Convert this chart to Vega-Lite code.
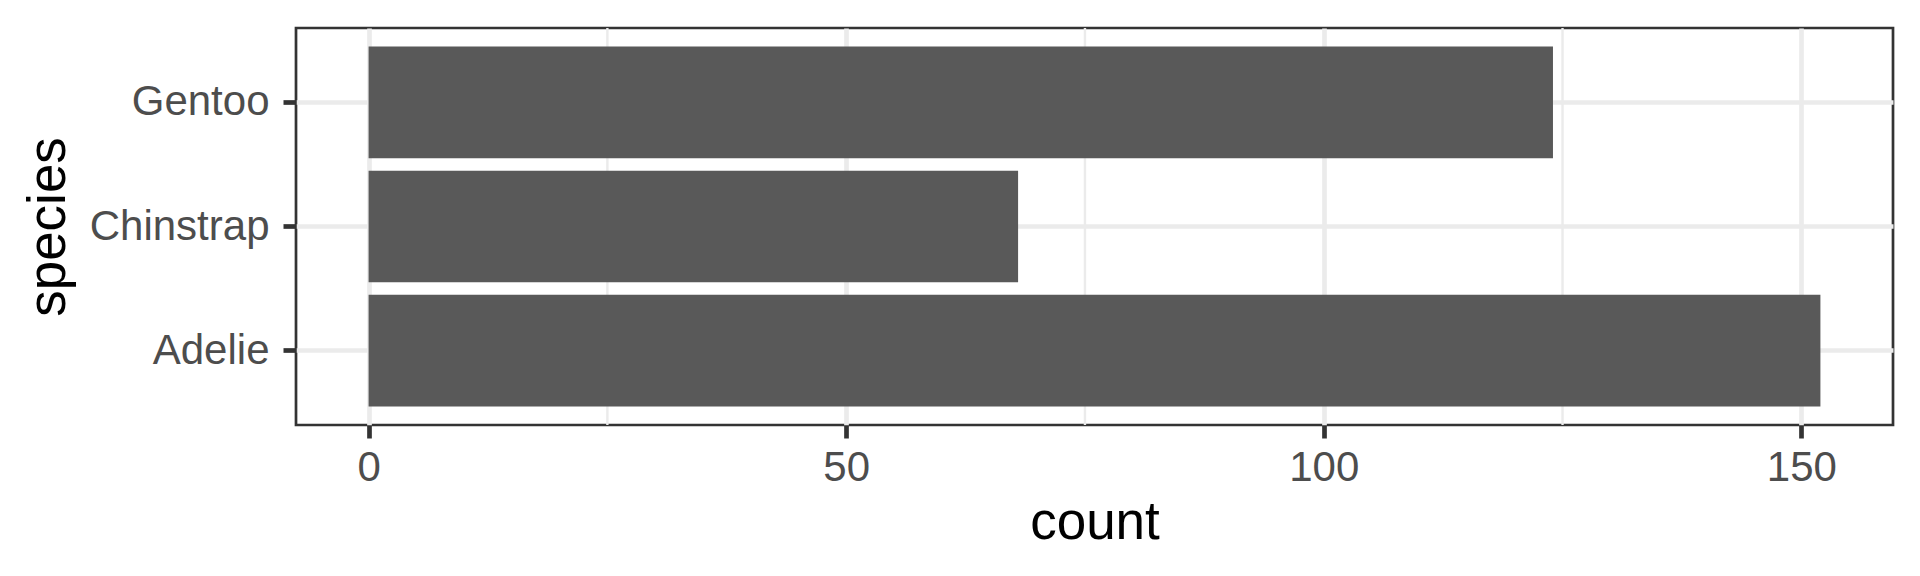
{
  "$schema": "https://vega.github.io/schema/vega-lite/v6.json",
  "width": 1597,
  "height": 397,
  "autosize": "none",
  "padding": {"left": 296, "top": 28, "right": 27, "bottom": 151},
  "background": "white",
  "config": {
    "font": "Liberation Sans",
    "view": {"stroke": "#333333", "strokeWidth": 2.7}
  },
  "layer": [
    {
      "data": {"values": [{"count": 25}, {"count": 75}, {"count": 125}]},
      "mark": {"type": "rule", "color": "#EBEBEB", "strokeWidth": 2.4},
      "encoding": {
        "x": {"field": "count", "type": "quantitative",
              "scale": {"domain": [-7.6, 159.6], "nice": false, "zero": false},
              "axis": {
                "title": "count",
                "values": [0, 50, 100, 150],
                "titleFont": "Liberation Sans", "titleFontSize": 53, "titleFontWeight": "normal", "titleColor": "#000000",
                "titleBaseline": "alphabetic", "titleY": 113, "titleX": 798.5, "titleAlign": "center",
                "labelFont": "Liberation Sans", "labelFontSize": 42, "labelColor": "#4D4D4D",
                "labelBaseline": "alphabetic", "labelPadding": 42, "labelFlush": false,
                "tickSize": 13, "tickWidth": 4.7, "tickColor": "#333333",
                "domain": false,
                "grid": true, "gridColor": "#EBEBEB", "gridWidth": 4.7
              }}
      }
    },
    {
      "data": {"values": [
        {"species": "Adelie", "count": 152},
        {"species": "Chinstrap", "count": 68},
        {"species": "Gentoo", "count": 124}
      ]},
      "mark": {"type": "bar", "color": "#595959"},
      "encoding": {
        "y": {
          "field": "species", "type": "nominal",
          "sort": ["Gentoo", "Chinstrap", "Adelie"],
          "scale": {"paddingInner": 0.1, "paddingOuter": 0.15},
          "axis": {
            "title": "species",
            "titleFont": "Liberation Sans", "titleFontSize": 53, "titleFontWeight": "normal", "titleColor": "#000000",
            "titleAngle": -90, "titleX": -232, "titleY": 198.5, "titleAlign": "center", "titleBaseline": "alphabetic",
            "labelFont": "Liberation Sans", "labelFontSize": 42, "labelColor": "#4D4D4D", "labelPadding": 14,
            "tickSize": 13, "tickWidth": 4.7, "tickColor": "#333333",
            "domain": false,
            "grid": true, "gridColor": "#EBEBEB", "gridWidth": 4.7,
            "bandPosition": 0.5
          }
        },
        "x": {
          "field": "count", "type": "quantitative",
          "scale": {"domain": [-7.6, 159.6], "nice": false, "zero": false},
          "axis": {
            "title": "count",
            "values": [0, 50, 100, 150],
            "titleFont": "Liberation Sans", "titleFontSize": 53, "titleFontWeight": "normal", "titleColor": "#000000",
            "titleBaseline": "alphabetic", "titleY": 113, "titleX": 798.5, "titleAlign": "center",
            "labelFont": "Liberation Sans", "labelFontSize": 42, "labelColor": "#4D4D4D",
            "labelBaseline": "alphabetic", "labelPadding": 42, "labelFlush": false,
            "tickSize": 13, "tickWidth": 4.7, "tickColor": "#333333",
            "domain": false,
            "grid": true, "gridColor": "#EBEBEB", "gridWidth": 4.7
          }
        },
        "x2": {"datum": 0}
      }
    }
  ]
}
